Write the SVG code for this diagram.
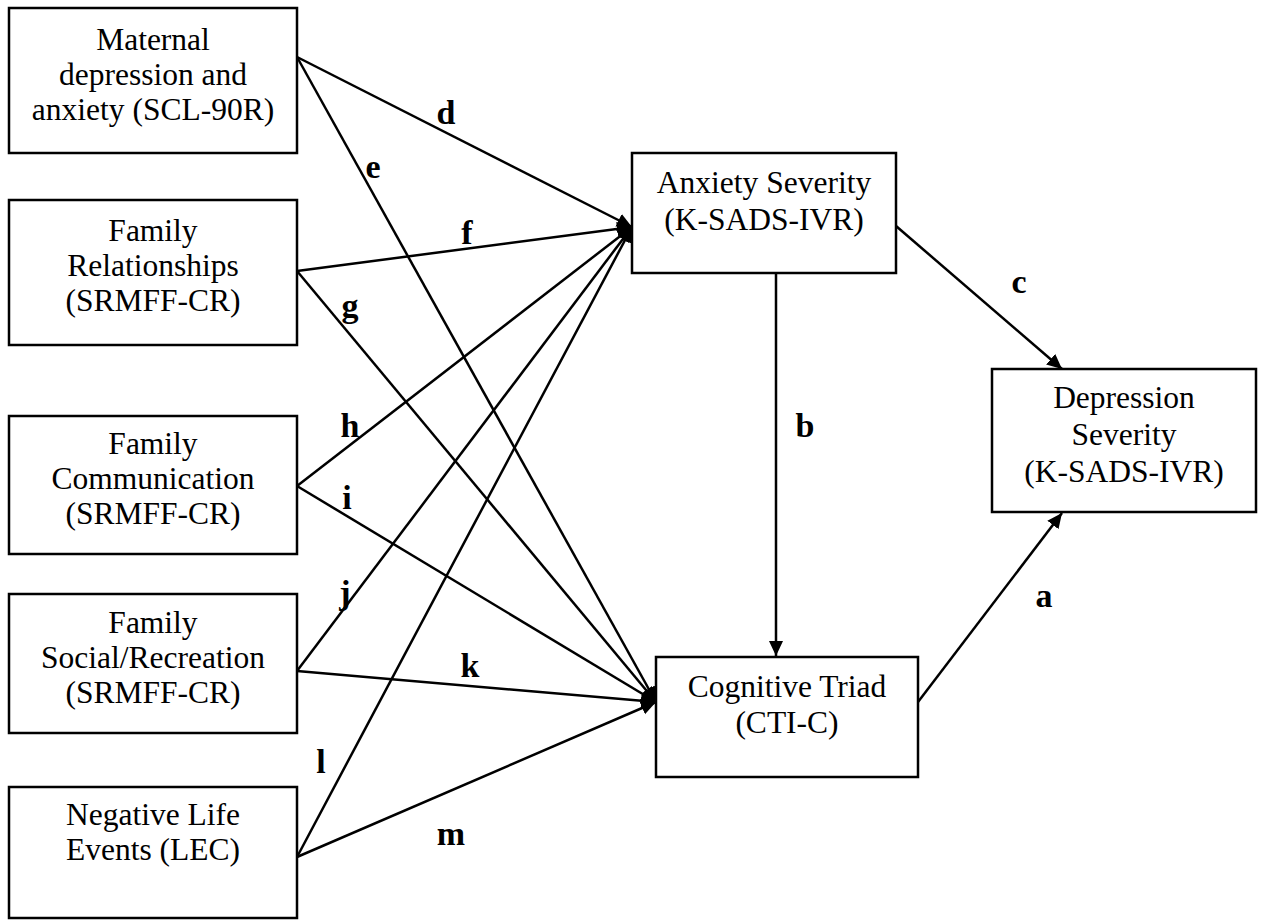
<svg xmlns="http://www.w3.org/2000/svg" width="1264" height="922" viewBox="0 0 1264 922">
<style>
.box{fill:#fff;stroke:#000;stroke-width:2.5}
.t{font-family:"Liberation Serif","Times New Roman",serif;font-size:31.5px;text-anchor:middle;fill:#000}
.lbl{font-family:"Liberation Serif","Times New Roman",serif;font-size:34px;font-weight:bold;text-anchor:middle;fill:#000}
.e{stroke:#000;stroke-width:2.5;fill:none;marker-end:url(#ah)}
</style>
<defs>
<marker id="ah" markerUnits="userSpaceOnUse" markerWidth="18" markerHeight="16" refX="15" refY="7" orient="auto">
<path d="M0,0 L15,7 L0,14 Z" fill="#000"/>
</marker>
</defs>
<rect width="1264" height="922" fill="#fff"/>
<g id="connectors">
<line class="e" x1="297" y1="57" x2="632" y2="227"/>
<line class="e" x1="297" y1="57" x2="656" y2="702"/>
<line class="e" x1="297" y1="271" x2="632" y2="227"/>
<line class="e" x1="297" y1="271" x2="656" y2="702"/>
<line class="e" x1="297" y1="486" x2="632" y2="227"/>
<line class="e" x1="297" y1="486" x2="656" y2="702"/>
<line class="e" x1="297" y1="671" x2="632" y2="227"/>
<line class="e" x1="297" y1="671" x2="656" y2="702"/>
<line class="e" x1="297" y1="857" x2="632" y2="227"/>
<line class="e" x1="297" y1="857" x2="656" y2="702"/>
<line class="e" x1="776" y1="273" x2="776" y2="656"/>
<line class="e" x1="896" y1="226" x2="1062" y2="369"/>
<line class="e" x1="918" y1="702" x2="1062" y2="513"/>
<text class="lbl" x="446" y="124">d</text>
<text class="lbl" x="373" y="178">e</text>
<text class="lbl" x="467" y="244">f</text>
<text class="lbl" x="350" y="317">g</text>
<text class="lbl" x="350" y="437">h</text>
<text class="lbl" x="347" y="509">i</text>
<text class="lbl" x="345" y="604">j</text>
<text class="lbl" x="470" y="677">k</text>
<text class="lbl" x="321" y="773">l</text>
<text class="lbl" x="451" y="845">m</text>
<text class="lbl" x="805" y="437">b</text>
<text class="lbl" x="1019" y="293">c</text>
<text class="lbl" x="1044" y="607">a</text>
</g>
<g id="maternal">
<rect class="box" x="9" y="8" width="288" height="145"/>
<text class="t" x="153" y="50">Maternal</text>
<text class="t" x="153" y="85">depression and</text>
<text class="t" x="153" y="120">anxiety (SCL-90R)</text>
</g>
<g id="relationships">
<rect class="box" x="9" y="200" width="288" height="145"/>
<text class="t" x="153" y="241">Family</text>
<text class="t" x="153" y="276">Relationships</text>
<text class="t" x="153" y="311">(SRMFF-CR)</text>
</g>
<g id="communication">
<rect class="box" x="9" y="416" width="288" height="138"/>
<text class="t" x="153" y="454">Family</text>
<text class="t" x="153" y="489">Communication</text>
<text class="t" x="153" y="524">(SRMFF-CR)</text>
</g>
<g id="social">
<rect class="box" x="9" y="594" width="288" height="139"/>
<text class="t" x="153" y="633">Family</text>
<text class="t" x="153" y="668">Social/Recreation</text>
<text class="t" x="153" y="703">(SRMFF-CR)</text>
</g>
<g id="lifeevents">
<rect class="box" x="9" y="787" width="288" height="131"/>
<text class="t" x="153" y="825">Negative Life</text>
<text class="t" x="153" y="860">Events (LEC)</text>
</g>
<g id="anxiety">
<rect class="box" x="632" y="153" width="264" height="120"/>
<text class="t" x="764" y="193">Anxiety Severity</text>
<text class="t" x="764" y="230">(K-SADS-IVR)</text>
</g>
<g id="cognitive">
<rect class="box" x="656" y="657" width="262" height="120"/>
<text class="t" x="787" y="697">Cognitive Triad</text>
<text class="t" x="787" y="733">(CTI-C)</text>
</g>
<g id="depression">
<rect class="box" x="992" y="369" width="264" height="143"/>
<text class="t" x="1124" y="408">Depression</text>
<text class="t" x="1124" y="445">Severity</text>
<text class="t" x="1124" y="482">(K-SADS-IVR)</text>
</g>
</svg>
